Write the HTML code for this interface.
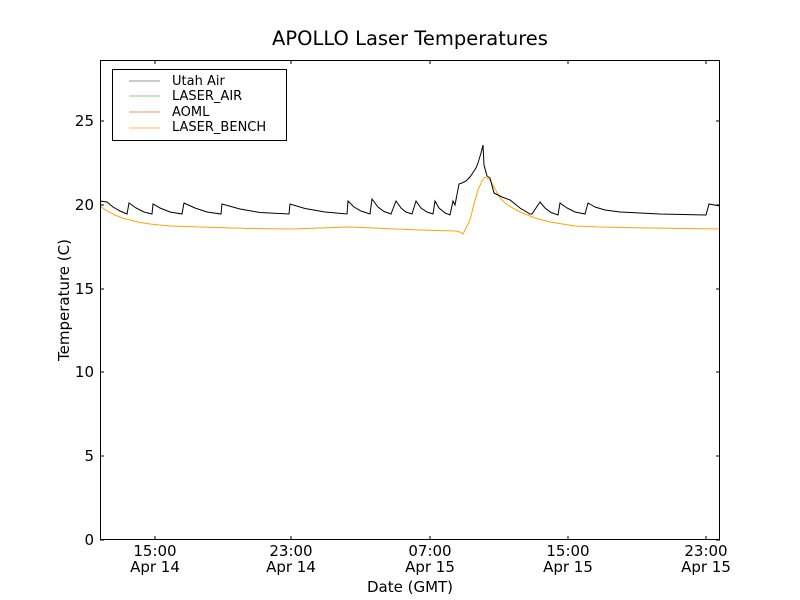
<!DOCTYPE html>
<html><head><meta charset="utf-8"><style>body{margin:0;background:#fff}svg{display:block}</style></head>
<body>
<svg width="800" height="600" xmlns="http://www.w3.org/2000/svg" font-family="DejaVu Sans, Liberation Sans, sans-serif">
<rect width="800" height="600" fill="#fff"/>
<text x="410" y="45" font-size="19.5" text-anchor="middle">APOLLO Laser Temperatures</text>
<g stroke="#000" stroke-width="1">
<line x1="100" y1="540" x2="104" y2="540"/><line x1="720" y1="540" x2="716" y2="540"/>
<line x1="100" y1="456" x2="104" y2="456"/><line x1="720" y1="456" x2="716" y2="456"/>
<line x1="100" y1="372" x2="104" y2="372"/><line x1="720" y1="372" x2="716" y2="372"/>
<line x1="100" y1="289" x2="104" y2="289"/><line x1="720" y1="289" x2="716" y2="289"/>
<line x1="100" y1="205" x2="104" y2="205"/><line x1="720" y1="205" x2="716" y2="205"/>
<line x1="100" y1="121" x2="104" y2="121"/><line x1="720" y1="121" x2="716" y2="121"/>
<line x1="155" y1="540" x2="155" y2="536"/><line x1="155" y1="60" x2="155" y2="64"/>
<line x1="291" y1="540" x2="291" y2="536"/><line x1="291" y1="60" x2="291" y2="64"/>
<line x1="430" y1="540" x2="430" y2="536"/><line x1="430" y1="60" x2="430" y2="64"/>
<line x1="568" y1="540" x2="568" y2="536"/><line x1="568" y1="60" x2="568" y2="64"/>
<line x1="706" y1="540" x2="706" y2="536"/><line x1="706" y1="60" x2="706" y2="64"/>
</g>
<polyline fill="none" stroke="#ffa500" stroke-width="1" points="100,206 107,211 115,215 122,218 130,220 140,222.5 150,224 170,226 200,227 250,228.5 290,229 350,227 420,230 455,231 460,232 463,234 466,228 470,220 474,204 478,190 482,181 485,177 490,180 495,189 500,198 505,203 510,206.5 520,212 535,218 550,222 575,226 600,227 650,228 720,229"/>
<polyline fill="none" stroke="#000" stroke-width="1" points="100,201 107,202 113,207 120,211 127,214 129,203 136,208 144,212 152,214 153,204 160,208 170,212 182,214 184,203 195,208 207,212 221,214 222,204 240,209 260,212.5 289,214 290,204 305,208.5 325,212 347,214 348,201 354,207 361,211 370,214 372,199 378,207 384,211.5 391,214 396,201 401,208 406,212 412,214 416,201 421,208 427,212 433,214 435,201 439,208 445,213 450,215 453,201 455,205 459,184 462,183 466,181 470,177 472,174 476,168 478,163 481,153 483,145 484,165 487,176 490,178 494,193 502,197 510,200 520,208 530,214 532,214 540,202 545,208 551,212.5 558,215 560,203 567,208 575,212 585,214 588,203 595,207 605,210 620,212 660,214 706,215 709,204 720,206"/>
<rect x="100.5" y="60.5" width="619" height="479" fill="none" stroke="#000" stroke-width="1"/>
<g font-size="15" text-anchor="end">
<text x="94" y="545">0</text><text x="94" y="461">5</text><text x="94" y="377">10</text>
<text x="94" y="294">15</text><text x="94" y="210">20</text><text x="94" y="126">25</text>
</g>
<g font-size="15" text-anchor="middle">
<text x="155" y="556">15:00</text><text x="155" y="572">Apr 14</text>
<text x="291" y="556">23:00</text><text x="291" y="572">Apr 14</text>
<text x="430" y="556">07:00</text><text x="430" y="572">Apr 15</text>
<text x="568" y="556">15:00</text><text x="568" y="572">Apr 15</text>
<text x="706" y="556">23:00</text><text x="706" y="572">Apr 15</text>
<text x="410" y="592">Date (GMT)</text>
<text transform="translate(69,300) rotate(-90)">Temperature (C)</text>
</g>
<rect x="112.5" y="69.5" width="174" height="71" fill="#fff" stroke="#000"/>
<line x1="129" y1="81" x2="160" y2="81" stroke="#999"/>
<line x1="129" y1="96" x2="160" y2="96" stroke="#8fc98f"/>
<line x1="129" y1="112" x2="160" y2="112" stroke="#ff8080"/>
<line x1="129" y1="128" x2="160" y2="128" stroke="#ffc040"/>
<g font-size="13">
<text x="172" y="85">Utah Air</text><text x="172" y="100">LASER_AIR</text>
<text x="172" y="116">AOML</text><text x="172" y="131">LASER_BENCH</text>
</g>
</svg>
</body></html>
